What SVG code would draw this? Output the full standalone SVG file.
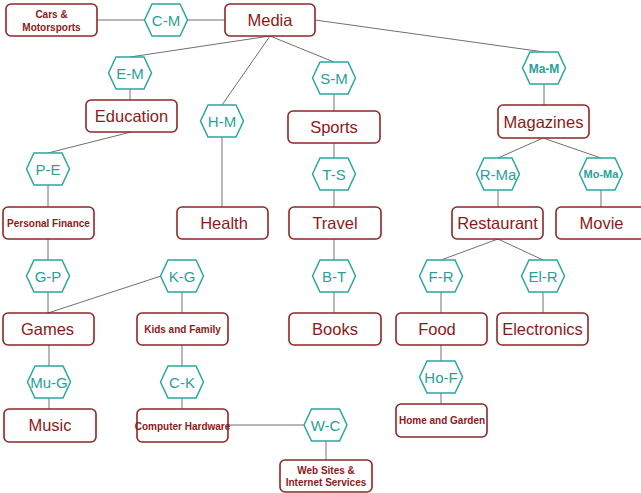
<svg xmlns="http://www.w3.org/2000/svg" xmlns:xlink="http://www.w3.org/1999/xlink" width="641" height="493" viewBox="0 0 641 493">
<style>
.box{fill:#fff;stroke:#8e2626;stroke-width:1.6}
.hex{fill:#fff;stroke:#2aa7a0;stroke-width:1.5}
.bt{font-family:"Liberation Sans",Arial,sans-serif;font-size:16.5px;fill:#8b1a1a;text-anchor:middle}
.st{font-family:"Liberation Sans",Arial,sans-serif;font-size:10px;font-weight:bold;fill:#8b1a1a;text-anchor:middle}
.ht{font-family:"Liberation Sans",Arial,sans-serif;font-size:15px;fill:#2a9f99;text-anchor:middle}
.hb{font-family:"Liberation Sans",Arial,sans-serif;font-weight:bold;fill:#2a9f99;text-anchor:middle}
.c{stroke:#707070;stroke-width:1;fill:none}
</style>
<defs>
<polygon id="hx" class="hex" points="-21.5,0 -14,-16 14,-16 21.5,0 14,16 -14,16"/>
</defs>
<rect width="641" height="493" fill="#fff"/>
<g id="connectors">
<line class="c" x1="97" y1="20" x2="145" y2="20"/>
<line class="c" x1="187" y1="20" x2="225" y2="20"/>
<line class="c" x1="315" y1="20" x2="544" y2="52"/>
<line class="c" x1="270" y1="36" x2="130" y2="57"/>
<line class="c" x1="270" y1="36" x2="222" y2="105"/>
<line class="c" x1="270" y1="36" x2="334" y2="62"/>
<line class="c" x1="130" y1="89" x2="130" y2="100"/>
<line class="c" x1="131" y1="132" x2="48" y2="153"/>
<line class="c" x1="48" y1="185" x2="48" y2="207"/>
<line class="c" x1="48" y1="239" x2="48" y2="260"/>
<line class="c" x1="48" y1="292" x2="48" y2="313"/>
<line class="c" x1="161" y1="276" x2="48" y2="313"/>
<line class="c" x1="182" y1="292" x2="182" y2="313"/>
<line class="c" x1="49" y1="345" x2="49" y2="366"/>
<line class="c" x1="49" y1="398" x2="49" y2="409"/>
<line class="c" x1="182" y1="345" x2="182" y2="366"/>
<line class="c" x1="182" y1="398" x2="182" y2="409"/>
<line class="c" x1="228" y1="425" x2="304" y2="425"/>
<line class="c" x1="326" y1="441" x2="326" y2="460"/>
<line class="c" x1="222" y1="137" x2="222" y2="207"/>
<line class="c" x1="334" y1="94" x2="334" y2="111"/>
<line class="c" x1="334" y1="143" x2="334" y2="158"/>
<line class="c" x1="334" y1="190" x2="334" y2="207"/>
<line class="c" x1="334" y1="239" x2="334" y2="260"/>
<line class="c" x1="334" y1="292" x2="334" y2="313"/>
<line class="c" x1="544" y1="84" x2="544" y2="105"/>
<line class="c" x1="543" y1="138" x2="498" y2="158"/>
<line class="c" x1="543" y1="138" x2="601" y2="158"/>
<line class="c" x1="498" y1="190" x2="498" y2="207"/>
<line class="c" x1="601" y1="190" x2="601" y2="207"/>
<line class="c" x1="498" y1="239" x2="441" y2="260"/>
<line class="c" x1="498" y1="239" x2="543" y2="260"/>
<line class="c" x1="441" y1="292" x2="441" y2="313"/>
<line class="c" x1="543" y1="292" x2="543" y2="313"/>
<line class="c" x1="441" y1="345" x2="441" y2="361"/>
<line class="c" x1="441" y1="393" x2="441" y2="404"/>
</g>
<g id="cars"><rect class="box" x="6" y="4" width="91" height="32" rx="5"/><text class="st" x="51.5" y="18" font-size="10.3">Cars &amp;</text><text class="st" x="51.5" y="30.5" font-size="10.3">Motorsports</text></g>
<g id="cm"><use xlink:href="#hx" x="166" y="20"/><text class="ht" x="166" y="25.5">C-M</text></g>
<g id="media"><rect class="box" x="225" y="4" width="90" height="32" rx="5"/><text class="bt" x="270" y="26">Media</text></g>
<g id="em"><use xlink:href="#hx" x="130" y="73"/><text class="ht" x="130" y="78.5">E-M</text></g>
<g id="education"><rect class="box" x="86" y="100" width="91" height="32" rx="5"/><text class="bt" x="131.5" y="122">Education</text></g>
<g id="hm"><use xlink:href="#hx" x="222" y="121"/><text class="ht" x="222" y="126.5">H-M</text></g>
<g id="sm"><use xlink:href="#hx" x="334" y="78"/><text class="ht" x="334" y="83.5">S-M</text></g>
<g id="sports"><rect class="box" x="288" y="111" width="92" height="32" rx="5"/><text class="bt" x="334" y="133">Sports</text></g>
<g id="mam"><use xlink:href="#hx" x="544" y="68"/><text class="hb" x="544" y="72.5" font-size="12">Ma-M</text></g>
<g id="magazines"><rect class="box" x="498" y="105" width="91" height="33" rx="5"/><text class="bt" x="543.5" y="127.5">Magazines</text></g>
<g id="pe"><use xlink:href="#hx" x="48" y="169"/><text class="ht" x="48" y="174.5">P-E</text></g>
<g id="personalfinance"><rect class="box" x="3" y="207" width="91" height="32" rx="5"/><text class="st" x="48.5" y="226.5" font-size="10.2">Personal Finance</text></g>
<g id="health"><rect class="box" x="177" y="207" width="91" height="32" rx="5"/><text class="bt" x="224" y="229">Health</text></g>
<g id="ts"><use xlink:href="#hx" x="334" y="174"/><text class="ht" x="334" y="179.5">T-S</text></g>
<g id="travel"><rect class="box" x="289" y="207" width="92" height="32" rx="5"/><text class="bt" x="335" y="229">Travel</text></g>
<g id="rma"><use xlink:href="#hx" x="498" y="174"/><text class="ht" x="498" y="179.5" font-size="14">R-Ma</text></g>
<g id="moma"><use xlink:href="#hx" x="601" y="174"/><text class="hb" x="601" y="178" font-size="11">Mo-Ma</text></g>
<g id="restaurant"><rect class="box" x="452" y="207" width="91" height="32" rx="5"/><text class="bt" x="497.5" y="229">Restaurant</text></g>
<g id="movie"><rect class="box" x="556" y="207" width="91" height="32" rx="5"/><text class="bt" x="601.5" y="229">Movie</text></g>
<g id="gp"><use xlink:href="#hx" x="48" y="276"/><text class="ht" x="48" y="281.5">G-P</text></g>
<g id="kg"><use xlink:href="#hx" x="182" y="276"/><text class="ht" x="182" y="281.5">K-G</text></g>
<g id="br"><use xlink:href="#hx" x="334" y="276"/><text class="ht" x="334" y="281.5">B-T</text></g>
<g id="fr"><use xlink:href="#hx" x="441" y="276"/><text class="ht" x="441" y="281.5">F-R</text></g>
<g id="elr"><use xlink:href="#hx" x="543" y="276"/><text class="ht" x="543" y="281.5">El-R</text></g>
<g id="games"><rect class="box" x="3" y="313" width="91" height="32" rx="5"/><text class="bt" x="47.5" y="335">Games</text></g>
<g id="kids"><rect class="box" x="137" y="313" width="91" height="32" rx="5"/><text class="st" x="182.5" y="332.5" font-size="10.2">Kids and Family</text></g>
<g id="books"><rect class="box" x="289" y="313" width="92" height="32" rx="5"/><text class="bt" x="335" y="335">Books</text></g>
<g id="food"><rect class="box" x="396" y="313" width="91" height="32" rx="5"/><text class="bt" x="437" y="335">Food</text></g>
<g id="electronics"><rect class="box" x="497" y="313" width="91" height="32" rx="5"/><text class="bt" x="542.5" y="335">Electronics</text></g>
<g id="mug"><use xlink:href="#hx" x="49" y="382"/><text class="ht" x="49" y="388" font-size="15.5">Mu-G</text></g>
<g id="ck"><use xlink:href="#hx" x="182" y="382"/><text class="ht" x="182" y="387.5">C-K</text></g>
<g id="hof"><use xlink:href="#hx" x="441" y="377"/><text class="ht" x="441" y="382.5">Ho-F</text></g>
<g id="music"><rect class="box" x="4" y="409" width="92" height="33" rx="5"/><text class="bt" x="50" y="431">Music</text></g>
<g id="computer"><rect class="box" x="137" y="409" width="91" height="33" rx="5"/><text class="st" x="182.5" y="430" font-size="9.4">Computer Hardware</text></g>
<g id="wc"><use xlink:href="#hx" x="325.5" y="425"/><text class="ht" x="325.5" y="430.5">W-C</text></g>
<g id="homegarden"><rect class="box" x="396" y="404" width="91" height="33" rx="5"/><text class="st" x="442" y="424" font-size="10.2">Home and Garden</text></g>
<g id="websites"><rect class="box" x="280" y="460" width="92" height="32" rx="5"/><text class="st" x="326" y="474" font-size="10">Web Sites &amp;</text><text class="st" x="326" y="486" font-size="10">Internet Services</text></g>
</svg>
